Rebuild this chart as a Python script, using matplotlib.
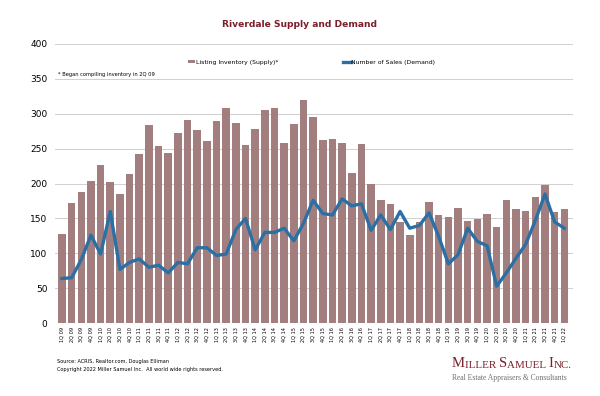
import matplotlib
matplotlib.use("Agg")
import matplotlib.pyplot as plt
import numpy as np

# quarters 1Q 09 .. 1Q 22
years = list(range(9, 23))
quarters = [f"{q}Q {y:02d}" for y in years for q in (1, 2, 3, 4)][:53]

inventory = [128, 172, 188, 204, 227, 202, 185, 213, 243, 284, 254, 244,
             272, 291, 277, 261, 290, 308, 287, 255, 278, 306, 308, 258,
             285, 319, 296, 263, 264, 258, 215, 256, 200, 176, 171, 145,
             126, 145, 173, 155, 152, 165, 147, 149, 157, 138, 176, 164,
             161, 181, 198, 159, 163]

sales = [64, 65, 91, 126, 99, 160, 77, 87, 92, 80, 83, 72,
         87, 85, 108, 108, 97, 99, 134, 150, 105, 130, 130, 136,
         118, 143, 176, 157, 155, 178, 168, 171, 133, 155, 134, 160,
         136, 140, 158, 124, 85, 98, 136, 117, 111, 53, 72, 93,
         113, 147, 185, 145, 136]

BAR = "#A27F7E"
LINE = "#2B6FA5"
TITLE = "#7A1F2B"

fig = plt.figure(figsize=(6.0, 3.96), dpi=100)
ax = fig.add_axes([0.092, 0.184, 0.863, 0.705])

x = np.arange(len(quarters))
bars = ax.bar(x, inventory, width=0.78, color=BAR, zorder=2,
              label="Listing Inventory (Supply)*")
line, = ax.plot(x, sales, color=LINE, lw=2.4, zorder=3, solid_joinstyle="round",
                label="Number of Sales (Demand)")

ax.set_ylim(0, 400)
ax.set_yticks(range(0, 401, 50))
ax.set_xlim(-0.7, len(quarters) - 0.1)
ax.set_xticks(x)
ax.set_xticklabels(quarters, rotation=90, fontsize=3.6)
ax.tick_params(axis="y", labelsize=6.5, length=0, pad=5.5)
ax.tick_params(axis="x", length=0, pad=3)
ax.grid(axis="y", color="#D0D0D0", lw=0.7, zorder=0)
for s in ax.spines.values():
    s.set_visible(False)

ax.legend([bars, line], [bars.get_label(), line.get_label()],
          loc="center", bbox_to_anchor=(0.495, 0.935), ncol=2,
          frameon=False, fontsize=4.45, handlelength=1.2, handleheight=0.35,
          handletextpad=0.1, columnspacing=10.5)

ax.text(0.005, 0.889, "* Began compiling inventory in 2Q 09",
        transform=ax.transAxes, fontsize=3.7, va="center")

fig.text(0.5, 0.937, "Riverdale Supply and Demand", ha="center", va="center",
         fontsize=6.6, fontweight="bold", color=TITLE)

fig.text(0.095, 0.088, "Source: ACRIS, Realtor.com, Douglas Elliman",
         fontsize=3.6, va="center")
fig.text(0.095, 0.068, "Copyright 2022 Miller Samuel Inc.  All world wide rights reserved.",
         fontsize=3.6, va="center")

# logo in faux small caps, pieces chained left to right
serif = "Liberation Serif"
pieces = [("M", 10.5), ("ILLER ", 7.9), ("S", 10.5), ("AMUEL ", 7.9),
          ("I", 10.5), ("NC.", 7.9)]
prev = fig.text(0.753, 0.073, pieces[0][0], fontsize=pieces[0][1],
                family=serif, color=TITLE, va="baseline")
for txt, size in pieces[1:]:
    prev = fig.add_artist(plt.Annotation(txt, xy=(1, 0), xycoords=prev,
                                         va="bottom", ha="left",
                                         fontsize=size, family=serif,
                                         color=TITLE))
fig.text(0.753, 0.040, "Real Estate Appraisers & Consultants", fontsize=5.5,
         family=serif, color="#707070", va="baseline")

fig.savefig("out.png", dpi=100)
